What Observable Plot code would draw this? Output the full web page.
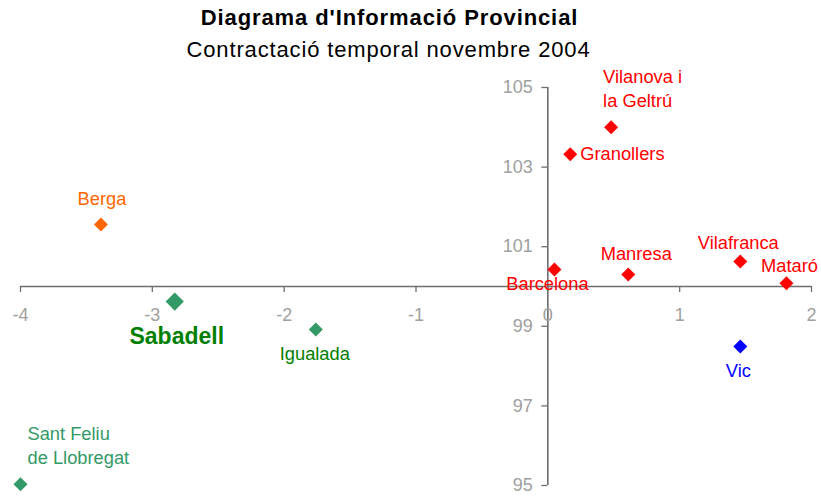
<!DOCTYPE html>
<html><head><meta charset="utf-8">
<script src="https://cdn.jsdelivr.net/npm/d3@7"></script>
<script src="https://cdn.jsdelivr.net/npm/@observablehq/plot@0.6"></script>
<style>
body{margin:0;background:#fff;font-family:Arial,"Liberation Sans",sans-serif;}
#head{position:relative;width:821px;height:62px;}
#title{position:absolute;left:0;width:779px;text-align:center;top:6px;font-size:22px;font-weight:bold;line-height:24px;letter-spacing:0.9px;color:#000;white-space:nowrap}
#sub{position:absolute;left:0;width:777px;text-align:center;top:37.5px;font-size:22px;line-height:24px;letter-spacing:0.85px;color:#000;white-space:nowrap}
#chart svg{display:block}
</style></head><body>
<div id="head"><div id="title">Diagrama d'Informació Provincial</div><div id="sub">Contractació temporal novembre 2004</div></div>
<div id="chart"></div>
<script>
// Data
const comarques = ["Vilanova i\nla Geltrú","Granollers","Barcelona","Manresa","Vilafranca","Mataró","Vic","Berga","Sabadell","Igualada","Sant Feliu\nde Llobregat"];
const xValues = [0.48, 0.17, 0.05, 0.61, 1.46, 1.81, 1.46, -3.39, -2.83, -1.76, -4.0];
const yValues = [104.0, 103.32, 100.43, 100.30, 100.63, 100.08, 98.49, 101.56, 99.62, 98.92, 95.03];
const grups = ["A","A","A","A","A","A","C","D","B","B","B"];
const xTicks = [-4, -3, -2, -1, 0, 1, 2];
const yTicks = [95, 97, 99, 101, 103, 105];
const destacat = "Sabadell";

// Layout / style config (not data)
const grupColors = {A: "#ff0000", B: "#339966", C: "#0000ff", D: "#ff6600"};
const labelColor = {"Sabadell": "#008000", "Igualada": "#008000"};
const labelOffset = {
  "Vilanova i\nla Geltrú": [-8, -40, "start"],
  "Granollers": [10, -2, "start"],
  "Barcelona": [-7, 13, "middle"],
  "Manresa": [8, -22, "middle"],
  "Vilafranca": [-2, -20, "middle"],
  "Mataró": [3, -19, "middle"],
  "Vic": [-2, 23, "middle"],
  "Berga": [1, -27, "middle"],
  "Sabadell": [2, 33, "middle"],
  "Igualada": [-1, 23, "middle"],
  "Sant Feliu\nde Llobregat": [7, -40, "start"]
};

const data = comarques.map((name, i) => ({name, x: xValues[i], y: yValues[i], grup: grups[i]}));
const axisColor = "#6e6e6e";
const tickColor = "#a0a0a0";
const font = "Arial, 'Liberation Sans', sans-serif";

const labelMarks = data.map(d => {
  const [dx, dy, anchor] = labelOffset[d.name];
  const big = d.name === destacat;
  return Plot.text([d], {
    x: "x", y: "y", text: "name", dx, dy, textAnchor: anchor,
    fill: labelColor[d.name] || grupColors[d.grup],
    fontSize: big ? 23 : 18.3, fontWeight: big ? "bold" : "normal",
    lineHeight: 1.33
  });
});

const chart = Plot.plot({
  width: 821, height: 434,
  marginTop: 25, marginBottom: 11, marginLeft: 20, marginRight: 10,
  style: {fontFamily: font, background: "#fff", overflow: "visible"},
  x: {domain: [-4, 2], axis: null},
  y: {domain: [95, 105], axis: null},
  marks: [
    // axes crossing at (0, 100)
    Plot.ruleY([100], {x1: -4, x2: 2, stroke: axisColor, strokeWidth: 1.6}),
    Plot.ruleX([0], {y1: 95, y2: 105, stroke: axisColor, strokeWidth: 1.6}),
    // tick marks
    Plot.ruleX(xTicks, {x: d => d, y1: 100, y2: 100, insetBottom: -6, stroke: axisColor, strokeWidth: 1.3}),
    Plot.ruleY(yTicks, {y: d => d, x1: 0, x2: 0, insetLeft: -6, stroke: axisColor, strokeWidth: 1.3}),
    // tick labels
    Plot.text(xTicks, {x: d => d, y: 100, text: d => String(d), dy: 29, fill: tickColor, fontSize: 18}),
    Plot.text(yTicks, {x: 0, y: d => d, text: d => String(d), dx: -15, textAnchor: "end", fill: tickColor, fontSize: 18}),
    // points
    Plot.dot(data.filter(d => d.name !== destacat), {x: "x", y: "y", symbol: "diamond2", r: 6.3, fill: d => grupColors[d.grup], stroke: "none"}),
    Plot.dot(data.filter(d => d.name === destacat), {x: "x", y: "y", symbol: "diamond2", r: 8.2, fill: d => grupColors[d.grup], stroke: "none"}),
    ...labelMarks
  ]
});
document.getElementById("chart").appendChild(chart);
</script>
</body></html>
